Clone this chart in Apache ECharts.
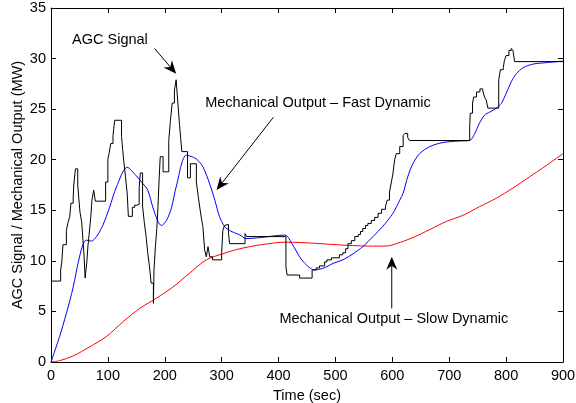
<!DOCTYPE html>
<html>
<head>
<meta charset="utf-8">
<script src="https://cdn.jsdelivr.net/npm/echarts@6/dist/echarts.min.js"></script>
<style>
  html, body { margin: 0; padding: 0; background: #fff; }
  #chart { width: 576px; height: 403px; }
</style>
</head>
<body>
<div id="chart"></div>
<script>
// AGC signal: value holds from each time until the next one
const agcTime = [0, 17, 19, 21, 27, 30, 33, 35, 39, 40, 43, 47, 49, 51, 54, 56, 58, 60, 63, 65, 67, 70, 72, 75, 78,
  96, 100, 102, 105, 109, 112, 124, 126, 128, 131, 134, 136, 143, 147, 151, 155, 157, 161, 164, 167, 170, 173, 176, 180,
  181, 183.5, 186, 188, 190, 192, 197, 207, 210, 213, 217, 220, 223, 226, 228, 230, 240, 245, 255.5, 259, 262, 265, 267,
  270, 273, 276, 279, 284, 300, 302, 305, 308, 312, 314, 341, 344, 413, 415, 437, 459, 466, 472, 481, 485, 493, 507, 513,
  518, 522, 528, 534, 540, 544, 548, 553, 557, 563, 569, 575, 581, 588, 591, 595, 598, 601, 604, 607, 613, 619, 622, 627,
  630, 736, 737, 741, 743, 748, 754, 759, 762, 765, 768, 787, 790, 795, 797, 800, 805, 809, 812, 815, 900];
const agcValue = [8.0, 9.1, 9.9, 11.6, 13.0, 13.8, 14.4, 15.7, 16.2, 17.5, 19.1, 17.5, 16.1, 14.8, 13.8, 12.2, 10.6, 8.3, 9.9, 11.5, 12.6, 14.4, 16.0, 17.0, 15.9,
  17.8, 20.0, 20.6, 21.6, 22.4, 23.9, 22.3, 21.0, 19.8, 18.3, 16.6, 14.4, 15.3, 15.5, 15.6, 17.2, 18.7, 15.4, 13.8, 12.5, 10.8, 9.5, 7.8, 5.8,
  9.1, 11.4, 13.2, 15.3, 18.0, 20.3, 18.8, 21.9, 23.9, 25.6, 26.9, 27.9, 25.6, 23.4, 22.1, 20.8, 18.2, 19.6, 17.8, 16.3, 15.1, 14.0, 13.4,
  11.1, 10.4, 11.4, 10.4, 10.1, 10.8, 13.0, 13.5, 13.6, 12.7, 11.7, 12.7, 12.4, 9.4, 8.6, 8.3, 9.1, 9.3, 9.5, 9.9, 10.1, 10.3, 10.6, 10.8,
  11.2, 11.7, 12.0, 12.4, 12.6, 12.9, 13.2, 13.5, 13.7, 14.0, 14.3, 14.7, 15.1, 15.4, 16.0, 16.8, 17.7, 18.6, 20.0, 20.6, 21.3, 22.4, 22.6, 22.2,
  21.9, 23.3, 24.6, 25.6, 26.2, 26.7, 27.0, 26.8, 26.2, 25.9, 25.1, 27.9, 28.9, 29.1, 29.8, 30.3, 30.8, 31.0, 30.8, 29.7, 29.7];

// Mechanical output, fast dynamic
const fastTime = [0, 15, 27, 39, 47.5, 56, 62, 71, 80, 91, 103, 115, 134, 150, 159, 170, 179, 188, 194, 203, 212, 220, 238,
  255, 267, 279, 288, 296, 305, 314, 332, 343, 367, 411, 425, 437, 449, 463, 478, 496, 513, 531, 548, 566, 583, 601, 613,
  619, 627, 636, 648, 666, 689, 718, 736, 745, 753, 762, 771, 783, 792, 800, 809, 818, 830, 847, 871, 900];
const fastValue = [0, 2.5, 4.8, 7.4, 9.75, 11.6, 12.05, 11.95, 12.4, 13.5, 15.3, 17.3, 19.25, 18.4, 17.8, 17.0, 15.3, 13.9, 13.5, 14.0, 15.3, 17.3, 20.45,
  20.1, 19.3, 17.6, 16.0, 14.4, 13.4, 13.0, 12.55, 12.2, 12.3, 12.55, 11.56, 10.4, 9.6, 9.1, 9.26, 9.75, 10.1, 10.7, 11.4, 12.4, 13.4, 14.7, 16.0,
  16.7, 18.3, 19.6, 20.6, 21.3, 21.7, 21.85, 21.9, 22.6, 23.6, 24.4, 24.7, 25.1, 25.6, 26.55, 27.7, 28.5, 29.1, 29.45, 29.6, 29.75];

// Mechanical output, slow dynamic
const slowTime = [0, 15, 39, 68, 97, 127, 156, 185, 214, 244, 273, 302, 332, 370, 413, 460, 501, 560, 589, 607, 636, 666,
  695, 724, 753, 783, 812, 841, 870, 900];
const slowValue = [0, 0.13, 0.6, 1.5, 2.5, 4.0, 5.3, 6.3, 7.4, 8.8, 10.1, 10.7, 11.2, 11.6, 11.85, 11.75, 11.6, 11.46, 11.46, 11.7, 12.3, 13.1,
  13.9, 14.5, 15.35, 16.2, 17.2, 18.3, 19.4, 20.6];

// annotations: text anchor (left, middle) and arrow from -> tip, in data units
const noteText = ['AGC Signal', 'Mechanical Output \u2013 Fast Dynamic', 'Mechanical Output \u2013 Slow Dynamic'];
const noteAt = [[37, 31.8], [271, 25.6], [401.5, 4.25]];
const arrowFrom = [[182, 31.0], [391, 24.2], [599, 5.3]];
const arrowTip = [[220, 28.5], [291, 17.0], [599, 10.4]];

const FONT = '"Liberation Sans", Arial, sans-serif';
const FS = 14.5;
const pairs = (xs, ys) => xs.map((x, i) => [x, ys[i]]);

const chart = echarts.init(document.getElementById('chart'));

const frameAxis = {
  axisLine: { show: true, onZero: false, lineStyle: { color: '#000', width: 1 } },
  axisTick: { show: true, inside: true, length: 5, lineStyle: { color: '#000' } },
  splitLine: { show: false }
};

chart.setOption({
  animation: false,
  backgroundColor: '#fff',
  grid: { left: 51, right: 13, top: 8, bottom: 41, containLabel: false, outerBoundsMode: 'none' },
  xAxis: [
    Object.assign({
      type: 'value', min: 0, max: 900, interval: 100, position: 'bottom',
      name: 'Time (sec)', nameLocation: 'middle', nameGap: 26, nameMoveOverlap: false,
      nameTextStyle: { color: '#000', fontSize: FS, fontFamily: FONT },
      axisLabel: { color: '#000', fontSize: FS, fontFamily: FONT, margin: 6 }
    }, frameAxis),
    Object.assign({
      type: 'value', min: 0, max: 900, interval: 100, position: 'top',
      axisLabel: { show: false }
    }, frameAxis)
  ],
  yAxis: [
    Object.assign({
      type: 'value', min: 0, max: 35, interval: 5, position: 'left',
      name: 'AGC Signal / Mechanical Output (MW)', nameLocation: 'middle', nameGap: 26, nameMoveOverlap: false,
      nameTextStyle: { color: '#000', fontSize: FS, fontFamily: FONT },
      axisLabel: { color: '#000', fontSize: FS, fontFamily: FONT, margin: 5 }
    }, frameAxis),
    Object.assign({
      type: 'value', min: 0, max: 35, interval: 5, position: 'right',
      axisLabel: { show: false }
    }, frameAxis)
  ],
  series: [
    {
      name: 'Slow', type: 'line', data: pairs(slowTime, slowValue), smooth: 0.3,
      showSymbol: false, lineStyle: { color: '#ff0000', width: 1 }, z: 2
    },
    {
      name: 'Fast', type: 'line', data: pairs(fastTime, fastValue), smooth: 0.3,
      showSymbol: false, lineStyle: { color: '#0000ff', width: 1 }, z: 3
    },
    {
      name: 'AGC', type: 'line', data: pairs(agcTime, agcValue), step: 'end',
      showSymbol: false, lineStyle: { color: '#000', width: 1 }, z: 4
    }
  ]
});

// text and arrows are placed through the axes' own scales
function arrowParts(from, tip) {
  const a = chart.convertToPixel({ gridIndex: 0 }, from);
  const b = chart.convertToPixel({ gridIndex: 0 }, tip);
  const dx = b[0] - a[0], dy = b[1] - a[1];
  const len = Math.hypot(dx, dy);
  const ux = dx / len, uy = dy / len, nx = -uy, ny = ux;
  const L = 13, W = 5.5, N = 9;
  const back = [b[0] - ux * L, b[1] - uy * L];
  const notch = [b[0] - ux * N, b[1] - uy * N];
  return [
    { type: 'polyline', shape: { points: [a, notch] }, style: { stroke: '#000', lineWidth: 1 }, z: 10 },
    {
      type: 'polygon',
      shape: { points: [b, [back[0] + nx * W, back[1] + ny * W], notch, [back[0] - nx * W, back[1] - ny * W]] },
      style: { fill: '#000' }, z: 10
    }
  ];
}

const graphic = [];
noteText.forEach((t, i) => {
  const p = chart.convertToPixel({ gridIndex: 0 }, noteAt[i]);
  graphic.push({
    type: 'text', x: p[0], y: p[1], z: 10,
    style: { text: t, fill: '#000', font: FS + 'px ' + FONT, align: 'left', verticalAlign: 'middle' }
  });
  graphic.push(...arrowParts(arrowFrom[i], arrowTip[i]));
});
chart.setOption({ graphic: graphic });
</script>
</body>
</html>
